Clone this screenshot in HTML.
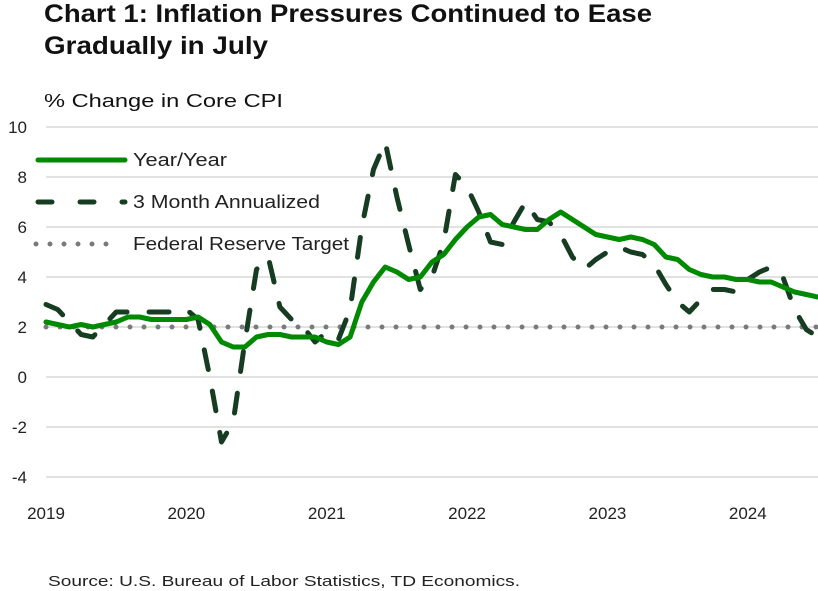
<!DOCTYPE html>
<html><head><meta charset="utf-8"><style>
body{margin:0;background:#fff;}
svg{display:block;font-family:"Liberation Sans",sans-serif;}
</style></head><body>
<svg width="818" height="591">
<text x="44" y="22" font-size="25" font-weight="bold" fill="#111" textLength="608" lengthAdjust="spacingAndGlyphs">Chart 1: Inflation Pressures Continued to Ease</text>
<text x="44" y="54" font-size="25" font-weight="bold" fill="#111" textLength="224" lengthAdjust="spacingAndGlyphs">Gradually in July</text>
<text x="44" y="107" font-size="18" fill="#111" textLength="239" lengthAdjust="spacingAndGlyphs">% Change in Core CPI</text>
<g id="grid"></g>
<g id="yticks"></g>
<g id="xticks"></g>
<g id="series"></g>
<g>
<line x1="38" y1="160" x2="125" y2="160" stroke="#008a00" stroke-width="5" stroke-linecap="round"/>
<text x="133" y="166" font-size="18" fill="#222" textLength="94" lengthAdjust="spacingAndGlyphs">Year/Year</text>
<line x1="38" y1="202" x2="125" y2="202" stroke="#163d22" stroke-width="5" stroke-linecap="round" stroke-dasharray="14 28"/>
<text x="133" y="208" font-size="18" fill="#222" textLength="187" lengthAdjust="spacingAndGlyphs">3 Month Annualized</text>
<line x1="36" y1="244" x2="112" y2="244" stroke="#7a7a7a" stroke-width="5" stroke-linecap="round" stroke-dasharray="0 14"/>
<text x="133" y="250" font-size="18" fill="#222" textLength="216" lengthAdjust="spacingAndGlyphs">Federal Reserve Target</text>
</g>
<text x="48" y="586" font-size="15" fill="#222" textLength="472" lengthAdjust="spacingAndGlyphs">Source: U.S. Bureau of Labor Statistics, TD Economics.</text>
</svg>
<script>
const yTicks=[10,8,6,4,2,0,-2,-4];
const years=["2019","2020","2021","2022","2023","2024"];
const yoy=[2.2,2.1,2.0,2.1,2.0,2.1,2.2,2.4,2.4,2.3,2.3,2.3,
2.3,2.4,2.1,1.4,1.2,1.2,1.6,1.7,1.7,1.6,1.6,1.6,
1.4,1.3,1.6,3.0,3.8,4.4,4.2,3.9,4.0,4.6,4.9,5.5,
6.0,6.4,6.5,6.1,6.0,5.9,5.9,6.3,6.6,6.3,6.0,5.7,
5.6,5.5,5.6,5.5,5.3,4.8,4.7,4.3,4.1,4.0,4.0,3.9,
3.9,3.8,3.8,3.6,3.4,3.3,3.2];
const ann3m=[2.9,2.7,2.2,1.7,1.6,2.1,2.6,2.6,2.6,2.6,2.6,2.6,
2.7,2.3,0.0,-2.6,-1.8,1.4,4.3,4.8,2.8,2.3,2.0,1.4,
1.8,1.5,2.7,6.0,8.3,9.4,7.2,5.3,3.5,4.0,5.4,8.1,
7.6,6.6,5.4,5.3,6.2,7.0,6.3,6.2,5.7,4.8,4.3,4.7,
5.0,5.2,5.0,4.9,4.5,3.7,3.0,2.6,3.1,3.5,3.5,3.4,
3.9,4.2,4.4,4.0,2.7,1.9,1.6];
const target=2;
const NS="http://www.w3.org/2000/svg";
const X=m=>46+m*(772/66);
const Y=v=>377-v*25;
function mk(tag,attrs,parent){const e=document.createElementNS(NS,tag);for(const k in attrs)e.setAttribute(k,attrs[k]);document.getElementById(parent).appendChild(e);return e;}
yTicks.forEach(t=>{
 const l=mk('line',{x1:46,x2:818,y1:Y(t),y2:Y(t),stroke:'#d9d9d9','stroke-width':1.5},'grid');
 
 
 const tx=mk('text',{x:27,y:Y(t)+6,'font-size':17,fill:'#222','text-anchor':'end'},'yticks');
 tx.textContent=t;
 
 
});
years.forEach((y,i)=>{
 const tx=mk('text',{x:X(i*12),y:519,'font-size':17,fill:'#222','text-anchor':'middle'},'xticks');
 tx.textContent=y;
 
 
});
const tl=mk('line',{x1:X(0),x2:X(66),y1:Y(target),y2:Y(target),stroke:'#7a7a7a','stroke-width':5,'stroke-linecap':'round','stroke-dasharray':'0 14'},'series');


const p1=mk('path',{d:ann3m.map((v,i)=>(i?'L':'M')+X(i).toFixed(1)+' '+Y(v).toFixed(1)).join(''),fill:'none',stroke:'#163d22','stroke-width':5,'stroke-linecap':'round','stroke-linejoin':'round','stroke-dasharray':'20 22'},'series');


const p2=mk('path',{d:yoy.map((v,i)=>(i?'L':'M')+X(i).toFixed(1)+' '+Y(v).toFixed(1)).join(''),fill:'none',stroke:'#008a00','stroke-width':5,'stroke-linecap':'round','stroke-linejoin':'round'},'series');


</script>
</body></html>
